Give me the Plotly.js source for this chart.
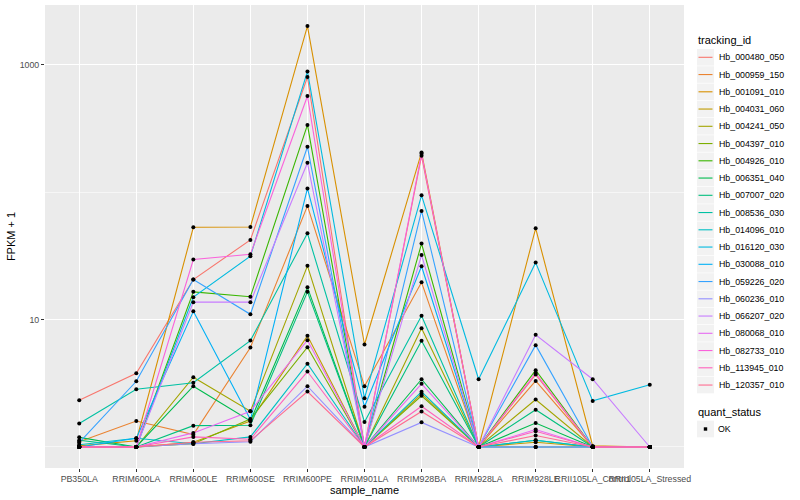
<!DOCTYPE html>
<html>
<head>
<meta charset="utf-8">
<script src="https://cdn.plot.ly/plotly-3.0.1.min.js"></script>
<style>html,body{margin:0;padding:0;background:#fff;}#chart{width:800px;height:500px;}</style>
</head>
<body>
<div id="chart"></div>
<script>
// ---- data ----
const categories = ["PB350LA","RRIM600LA","RRIM600LE","RRIM600SE","RRIM600PE","RRIM901LA","RRIM928BA","RRIM928LA","RRIM928LE","RRII105LA_Control","RRII105LA_Stressed"];
const trackingIds = ["Hb_000480_050","Hb_000959_150","Hb_001091_010","Hb_004031_060","Hb_004241_050","Hb_004397_010","Hb_004926_010","Hb_006351_040","Hb_007007_020","Hb_008536_030","Hb_014096_010","Hb_016120_030","Hb_030088_010","Hb_059226_020","Hb_060236_010","Hb_066207_020","Hb_080068_010","Hb_082733_010","Hb_113945_010","Hb_120357_010"];
const seriesColors = ["#F8766D","#EA8331","#D89000","#C09B00","#A3A500","#7CAE00","#39B600","#00BB4E","#00BF7D","#00C1A3","#00BFC4","#00BAE0","#00B0F6","#35A2FF","#9590FF","#C77CFF","#E76BF3","#FA62DB","#FF62BC","#FF6C91"];
// FPKM + 1 per sample, in category order
const hb000480_050 = [2.33, 3.79, 20.6, 42.2, 801, 1, 193, 1, 3.7, 1, 1];
const hb000959_150 = [1.1, 1.6, 1.25, 6.03, 78, 3.0, 19.6, 1, 3.3, 1, 1];
const hb001091_010 = [1.02, 1.12, 53, 53.3, 2013, 6.37, 205, 1, 52, 1.02, 1];
const hb004031_060 = [1, 1, 1.09, 1.6, 7.45, 1, 2.61, 1, 1.09, 1, 1];
const hb004241_050 = [1, 1, 3.53, 1.91, 26.4, 1, 8.55, 1, 2.36, 1, 1];
const hb004397_010 = [1, 1, 1.06, 1.66, 6.07, 1, 2.52, 1, 1, 1, 1];
const hb004926_010 = [1, 1, 16.5, 15.1, 337, 1, 39.5, 1, 4.0, 1, 1];
const hb006351_040 = [1.19, 1, 3.0, 1.6, 17.9, 1, 3.4, 1, 1.54, 1, 1];
const hb007007_020 = [1.13, 1, 1.47, 1.48, 16.5, 1, 6.81, 1, 1.96, 1, 1];
const hb008536_030 = [1.53, 2.84, 3.19, 6.84, 47.5, 1.57, 10.7, 1, 1.13, 1, 1];
const hb014096_010 = [1.04, 1.17, 1.06, 1.2, 4.5, 1, 2.71, 1, 1.13, 1, 1];
const hb016120_030 = [1, 1, 15, 31.4, 886, 2.41, 94.4, 3.4, 28, 2.3, 3.08];
const hb030088_010 = [1, 1.17, 11.6, 1.64, 107, 2.07, 26.2, 1, 1, 1, 1];
const hb059226_020 = [1.08, 3.28, 20.6, 11.0, 227, 1, 71.3, 1, 6.3, 1, 1];
const hb060236_010 = [1, 1, 1.06, 1.1, 3.0, 1, 1.56, 1, 1, 1, 1];
const hb066207_020 = [1, 1, 13.7, 13.7, 170, 1, 32.1, 1, 7.6, 3.4, 1];
const hb080068_010 = [1, 1, 1.29, 1.91, 6.88, 1, 3.13, 1, 1.37, 1, 1];
const hb082733_010 = [1, 1, 29.6, 32.5, 568, 1, 200, 1, 3.8, 1, 1];
const hb113945_010 = [1, 1, 1.2, 1.15, 3.91, 1, 2.09, 1, 1.33, 1, 1];
const hb120357_010 = [1, 1, 1.09, 1.12, 2.72, 1, 1.9, 1, 1.23, 1, 1];
const seriesValues = [hb000480_050, hb000959_150, hb001091_010, hb004031_060, hb004241_050, hb004397_010, hb004926_010, hb006351_040, hb007007_020, hb008536_030, hb014096_010, hb016120_030, hb030088_010, hb059226_020, hb060236_010, hb066207_020, hb080068_010, hb082733_010, hb113945_010, hb120357_010];
const yTickVals = [10, 1000];
const yTickText = ["10", "1000"];
const quantStatus = ["OK"];

// ---- traces ----
const traces = [];
seriesValues.forEach((vals, i) => {
  traces.push({type: "scatter", mode: "lines", x: categories, y: vals, name: trackingIds[i],
    line: {color: seriesColors[i], width: 1.1}, showlegend: false, hoverinfo: "skip"});
});
seriesValues.forEach((vals, i) => {
  traces.push({type: "scatter", mode: "markers", x: categories, y: vals, name: quantStatus[0],
    marker: {color: "#000000", size: 4, symbol: "circle", line: {width: 0}}, showlegend: false});
});

// ---- layout geometry (pixels) ----
const W = 800, H = 500;
const M = {l: 45, r: 116, t: 5, b: 32};
const pw = W - M.l - M.r, ph = H - M.t - M.b;
const px = x => (x - M.l) / pw;
const py = y => (H - M.b - y) / ph;

const font = "Liberation Sans, Arial, Helvetica, sans-serif";
const shapes = [], annotations = [];

// x axis title
annotations.push({xref: "paper", yref: "paper", x: 0.5, y: py(489.5), xanchor: "center", yanchor: "middle",
  text: "sample_name", showarrow: false, font: {family: font, size: 11, color: "#000"}});

// legend: tracking_id
annotations.push({xref: "paper", yref: "paper", x: px(696), y: py(40.5), xanchor: "left", yanchor: "middle",
  text: "tracking_id", showarrow: false, font: {family: font, size: 11, color: "#000"}});
const itemH = 17.25, firstY = 57.3;
trackingIds.forEach((id, i) => {
  const cy = firstY + i * itemH;
  shapes.push({type: "rect", xref: "paper", yref: "paper", x0: px(697), x1: px(714), y0: py(cy - 8.3), y1: py(cy + 8.3),
    fillcolor: "#F2F2F2", line: {width: 0}, layer: "above"});
  shapes.push({type: "line", xref: "paper", yref: "paper", x0: px(698.5), x1: px(712.5), y0: py(cy), y1: py(cy),
    line: {color: seriesColors[i], width: 1.1}, layer: "above"});
  annotations.push({xref: "paper", yref: "paper", x: px(716.5), y: py(cy), xanchor: "left", yanchor: "middle",
    text: id, showarrow: false, font: {family: font, size: 8.8, color: "#000"}});
});
// legend: quant_status
annotations.push({xref: "paper", yref: "paper", x: px(696), y: py(412.3), xanchor: "left", yanchor: "middle",
  text: "quant_status", showarrow: false, font: {family: font, size: 11, color: "#000"}});
quantStatus.forEach((q, i) => {
  const cy = 429 + i * itemH;
  shapes.push({type: "rect", xref: "paper", yref: "paper", x0: px(697), x1: px(714), y0: py(cy - 8.3), y1: py(cy + 8.3),
    fillcolor: "#F2F2F2", line: {width: 0}, layer: "above"});
  shapes.push({type: "rect", xref: "paper", yref: "paper", x0: px(703.8), x1: px(707.2), y0: py(cy - 1.7), y1: py(cy + 1.7),
    fillcolor: "#000", line: {width: 0}, layer: "above"});
  annotations.push({xref: "paper", yref: "paper", x: px(716), y: py(cy), xanchor: "left", yanchor: "middle",
    text: q, showarrow: false, font: {family: font, size: 8.8, color: "#000"}});
});

const layout = {
  width: W, height: H,
  margin: M,
  paper_bgcolor: "#FFFFFF",
  plot_bgcolor: "#EBEBEB",
  showlegend: false,
  font: {family: font, size: 8.8, color: "#4D4D4D"},
  xaxis: {
    type: "category", categoryorder: "array", categoryarray: categories,
    range: [-0.6, categories.length - 0.4],
    showgrid: true, gridcolor: "#FFFFFF", gridwidth: 1.1,
    zeroline: false, showline: false,
    ticks: "outside", ticklen: 2.5, tickcolor: "#333333", tickwidth: 1,
    tickangle: 0, tickfont: {family: font, size: 8.8, color: "#4D4D4D"},
    automargin: false
  },
  yaxis: {
    type: "log",
    range: [-0.165, 3.469],
    tickmode: "array", tickvals: yTickVals, ticktext: yTickText,
    showgrid: true, gridcolor: "#FFFFFF", gridwidth: 1.1,
    minor: {tickmode: "array", tickvals: [1, 100], showgrid: true, gridcolor: "#FFFFFF", gridwidth: 0.55, ticks: "", ticklen: 0},
    zeroline: false, showline: false,
    ticks: "outside", ticklen: 3, tickcolor: "#333333", tickwidth: 1,
    tickfont: {family: font, size: 8.8, color: "#4D4D4D"},
    title: {text: "FPKM + 1", font: {family: font, size: 11, color: "#000"}, standoff: 1},
    automargin: false
  },
  shapes: shapes,
  annotations: annotations
};

Plotly.newPlot("chart", traces, layout, {staticPlot: true, displayModeBar: false});
</script>
</body>
</html>
